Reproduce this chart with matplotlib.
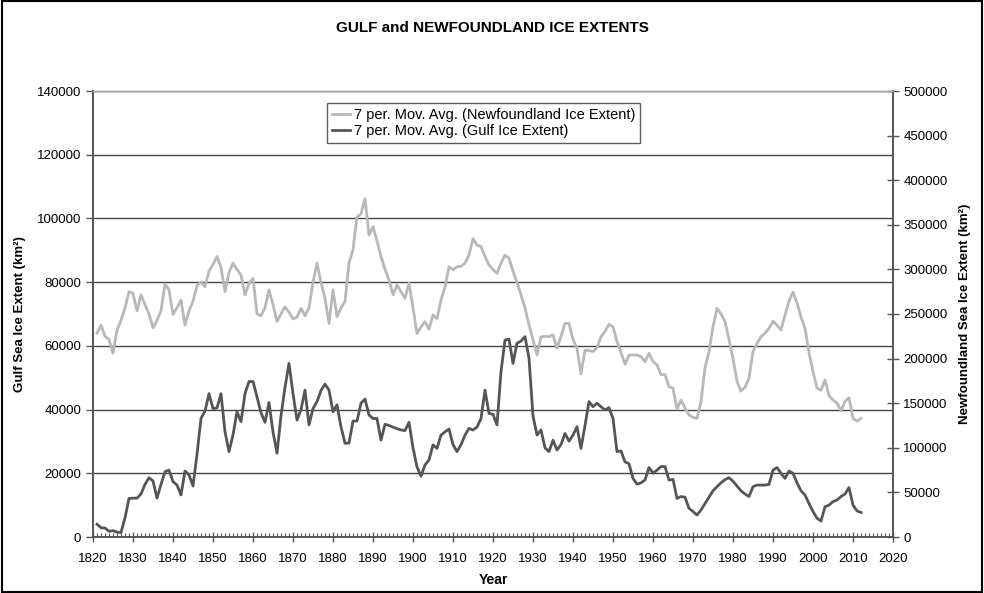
import matplotlib
matplotlib.use("Agg")
import matplotlib.pyplot as plt
import numpy as np

plt.rcParams['font.family'] = ['Liberation Sans', 'DejaVu Sans']

# 7 period moving averages, one value per year 1821-2012
years = np.arange(1821, 2013)

gulf = [
    4000, 2900, 2800, 1800, 2000, 1500, 1400, 6000, 12100, 12200,          # 1821-1830
    12200, 13500, 16500, 18600, 17600, 12200, 16500, 20500, 21000, 17400,   # 1831-1840
    16300, 13200, 20700, 19500, 16000, 26000, 37200, 39500, 45000, 40300,   # 1841-1850
    40500, 45000, 33000, 26800, 32000, 39300, 36200, 45000, 48800, 48800,   # 1851-1860
    44000, 39000, 36000, 42200, 33000, 26300, 38000, 47000, 54500, 45000,   # 1861-1870
    36700, 40000, 46100, 35200, 40300, 42500, 46000, 48000, 46100, 39300,   # 1871-1880
    41500, 34600, 29400, 29500, 36400, 36400, 42000, 43300, 38300, 37200,   # 1881-1890
    37200, 30400, 35400, 35000, 34500, 34000, 33600, 33400, 36000, 28000,   # 1891-1900
    22000, 19100, 22600, 24200, 28900, 27800, 32000, 33000, 33900, 29000,   # 1901-1910
    26800, 29000, 32000, 34100, 33600, 34500, 37200, 46100, 38800, 38500,   # 1911-1920
    35200, 51900, 61800, 62100, 54500, 60800, 61500, 62900, 56100, 38000,   # 1921-1930
    32000, 33600, 28000, 26800, 30400, 27300, 29000, 32500, 30100, 32000,   # 1931-1940
    34600, 27800, 35000, 42500, 40900, 42000, 40900, 39900, 40600, 37200,   # 1941-1950
    26800, 27000, 23600, 23000, 18400, 16600, 17000, 17900, 21800, 20000,   # 1951-1960
    21000, 22100, 22100, 17900, 18100, 12100, 12700, 12500, 9000, 8000,     # 1961-1970
    6900, 8500, 10500, 12500, 14500, 15800, 17000, 18000, 18600, 17500,     # 1971-1980
    16000, 14500, 13500, 12700, 15800, 16300, 16300, 16300, 16500, 21000,   # 1981-1990
    21800, 20000, 18400, 20700, 20000, 17000, 14500, 13200, 10500, 8000,    # 1991-2000
    5900, 5000, 9500, 10000, 11100, 11600, 12700, 13500, 15500, 10000,      # 2001-2010
    8200, 7700,                                                             # 2011-2012
]

newfoundland = [
    228500, 237500, 225000, 221500, 206000, 232000, 243000, 257000, 275000, 273000,
    253500, 271500, 260500, 250000, 234500, 243000, 253500, 283500, 277000, 249500,
    257000, 265500, 237500, 253500, 264500, 282000, 286000, 280500, 298000, 305500,
    314500, 302000, 275000, 296500, 307000, 300000, 293500, 271500, 284000, 290000,
    250000, 248000, 257000, 277000, 260500, 241500, 250000, 258000, 252000, 244500,
    246500, 256500, 248000, 257000, 285500, 307000, 285500, 267500, 239500, 277000,
    247000, 257000, 264000, 307000, 322000, 359000, 362000, 379500, 338500, 348000,
    332000, 314500, 300000, 288000, 271500, 282500, 275000, 267500, 284500, 257000,
    228000, 235500, 241500, 233000, 249000, 245000, 265500, 280500, 303000, 299500,
    303000, 303500, 307000, 316000, 334500, 327500, 325500, 314500, 305000, 300000,
    295500, 307000, 316000, 312500, 298000, 285500, 271500, 257000, 237500, 221500,
    204000, 224500, 225000, 224500, 226500, 211500, 225000, 239500, 239500, 221500,
    211500, 183000, 209500, 209000, 208000, 212000, 224500, 230500, 238500, 235500,
    219000, 207000, 193500, 204000, 204000, 204000, 202000, 196500, 206000, 196500,
    193000, 182000, 182000, 168500, 167000, 143500, 153500, 144500, 137000, 134000,
    133000, 152000, 189500, 208000, 235500, 256500, 250000, 241500, 221500, 200000,
    174500, 163500, 168000, 178000, 208000, 217000, 224500, 228500, 234000, 242000,
    237500, 232000, 249000, 264500, 274500, 262500, 246500, 234000, 207000, 185500,
    167000, 164500, 176000, 158500, 153500, 150000, 141500, 152000, 156000, 133000,
    130000, 133000,
]

fig = plt.figure(figsize=(9.84, 5.93), dpi=100)
fig.patches.append(plt.Rectangle((0.002, 0.002), 0.996, 0.996, transform=fig.transFigure,
                                 fill=False, edgecolor='black', linewidth=1.5))

ax1 = fig.add_axes([93/984, 56/593, 800/984, 446/593])
ax2 = ax1.twinx()

dark = '#555555'
light = '#b8b8b8'
l1, = ax1.plot(years, gulf, color=dark, linewidth=2.0, label='7 per. Mov. Avg. (Gulf Ice Extent)')
l2, = ax2.plot(years, newfoundland, color=light, linewidth=2.0,
               label='7 per. Mov. Avg. (Newfoundland Ice Extent)')

ax1.set_xlim(1820, 2020)
ax1.set_ylim(0, 140000)
ax2.set_ylim(0, 500000)
ax1.set_xticks(np.arange(1820, 2021, 10))
ax1.set_xticks(np.arange(1820, 2021, 1), minor=True)
ax1.set_yticks(np.arange(0, 140001, 20000))
ax2.set_yticks(np.arange(0, 500001, 50000))

ax1.yaxis.grid(True, color='#444444', linewidth=1.0)
ax1.set_axisbelow(True)

ax1.tick_params(axis='x', which='major', direction='inout', length=7, width=1, color='#555555',
                labelsize=9.5, pad=8)
ax1.tick_params(axis='x', which='minor', direction='in', length=3, width=0.8, color='#555555')
ax1.tick_params(axis='y', direction='out', length=5, width=1, color='#555555', labelsize=9.5)
ax2.tick_params(axis='y', direction='inout', length=8, width=1, color='#555555', labelsize=9.5)

for ax in (ax1, ax2):
    for s in ('left', 'right', 'bottom'):
        ax.spines[s].set_color('#555555')
        ax.spines[s].set_linewidth(1.2)
    ax.spines['top'].set_color('#aaaaaa')
    ax.spines['top'].set_linewidth(1.0)

ax1.set_xlabel('Year', fontsize=10, fontweight='bold', labelpad=6)
ax1.set_ylabel('Gulf Sea Ice Extent (km²)', fontsize=9.5, fontweight='bold', labelpad=8)
ax2.set_ylabel('Newfoundland Sea Ice Extent (km²)', fontsize=9.5, fontweight='bold', labelpad=8)

fig.text(0.5, 0.953, 'GULF and NEWFOUNDLAND ICE EXTENTS', ha='center', va='center',
         fontsize=11, fontweight='bold')

leg = ax2.legend(handles=[l2, l1], loc='upper left', bbox_to_anchor=(0.2925, 0.973),
                 borderaxespad=0, fontsize=10.5, frameon=True, fancybox=False,
                 handlelength=1.2, handletextpad=0.3, labelspacing=0.15,
                 borderpad=0.35)
leg.get_frame().set_edgecolor('#333333')
leg.get_frame().set_linewidth(1.0)

fig.savefig('out.png', dpi=100)
